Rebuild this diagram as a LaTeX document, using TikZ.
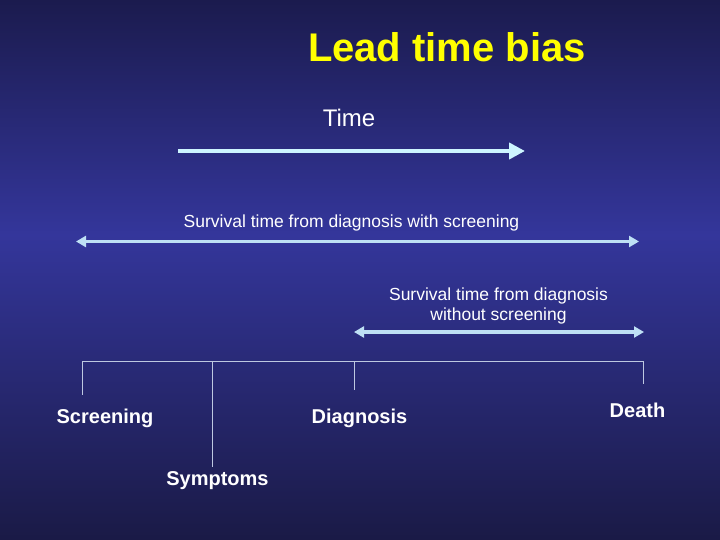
\documentclass[tikz,border=0pt]{standalone}
\usepackage{fontspec}
\setmainfont{Liberation Sans}
\usetikzlibrary{arrows.meta}
\definecolor{bgtop}{RGB}{27,27,78}
\definecolor{bgmid}{RGB}{52,54,155}
\definecolor{bgbottom}{RGB}{26,26,70}
\definecolor{titleyellow}{RGB}{255,255,0}
\definecolor{timearrow}{RGB}{205,245,255}
\definecolor{spanblue}{RGB}{190,224,245}
\definecolor{axisgray}{RGB}{190,200,225}

\tikzset{
	eventtext/.style={text=white, font=\fontsize{20}{24}\selectfont\bfseries, anchor=base, inner sep=0pt},
	spantext/.style={text=white, font=\fontsize{17.5}{20}\selectfont, anchor=base, inner sep=0pt, align=center},
	spanarrow/.style={spanblue, line width=3.5pt, {Triangle[length=10pt,width=11pt]}-{Triangle[length=10pt,width=11pt]}},
	tickline/.style={axisgray, line width=0.8pt}
}

\begin{document}
\begin{tikzpicture}[x=1pt, y=-1pt]

	\useasboundingbox (0,0) rectangle (720,540);
	\shade[top color=bgtop, bottom color=bgmid] (0,0) rectangle (720,235);
	\shade[top color=bgmid, bottom color=bgbottom] (0,234.5) rectangle (720,540);

	\node[eventtext, text=titleyellow, font=\fontsize{40}{48}\selectfont\bfseries] (title) at (447,62) {Lead time bias};
	\node[eventtext, font=\fontsize{24}{28}\selectfont] (time) at (349,126.5) {Time};

	% time arrow
	\coordinate (timeStart) at (178,151);
	\coordinate (timeEnd) at (525,151);
	\draw[timearrow, line width=4pt, -{Triangle[length=16pt,width=16pt]}] (timeStart) -- (timeEnd);

	% survival spans
	\node[spantext] (withScr) at (351.5,227) {Survival time from diagnosis with screening};
	\coordinate (withStart) at (76,241.5);
	\coordinate (withEnd) at (639,241.5);
	\draw[spanarrow] (withStart) -- (withEnd);

	\node[spantext] (withoutScr) at (498.5,320) {Survival time from diagnosis\\without screening};
	\coordinate (withoutStart) at (354,332);
	\coordinate (withoutEnd) at (644,332);
	\draw[spanarrow] (withoutStart) -- (withoutEnd);

	% time line with events
	\coordinate (scrTop) at (82,361);
	\coordinate (scrEnd) at (82,395);
	\coordinate (symTop) at (212,361);
	\coordinate (symEnd) at (212,467);
	\coordinate (diaTop) at (354,361);
	\coordinate (diaEnd) at (354,390);
	\coordinate (deaTop) at (643,361);
	\coordinate (deaEnd) at (643,384);
	\draw[tickline] (scrTop) -- (deaTop);
	\draw[tickline] (scrTop) -- (scrEnd);
	\draw[tickline] (symTop) -- (symEnd);
	\draw[tickline] (diaTop) -- (diaEnd);
	\draw[tickline] (deaTop) -- (deaEnd);

	\node[eventtext] (screening) at (105,423) {Screening};
	\node[eventtext] (diagnosis) at (359.5,423) {Diagnosis};
	\node[eventtext] (death) at (637.5,417) {Death};
	\node[eventtext] (symptoms) at (217.5,485.5) {Symptoms};

\end{tikzpicture}
\end{document}
